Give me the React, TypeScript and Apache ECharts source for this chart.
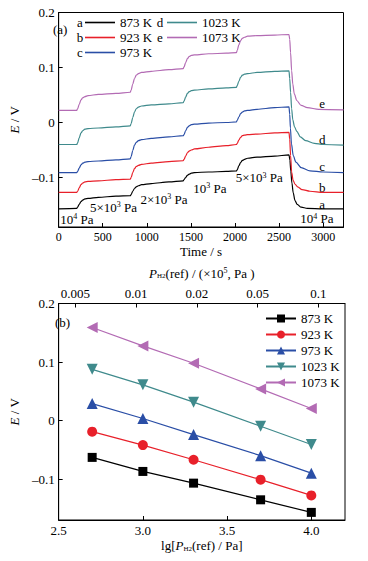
import React, { useEffect, useRef } from "react";
import * as echarts from "echarts";

const FONT = "'Liberation Serif', 'Times New Roman', serif";

// ---------- data ----------
const temps = ["873 K", "923 K", "973 K", "1023 K", "1073 K"];
const curveLetters = ["a", "b", "c", "d", "e"];
const colors = ["#000000", "#e8202a", "#2a4ea6", "#3f8a8c", "#b36bb4"];

const timeTicks = [0, 500, 1000, 1500, 2000, 2500, 3000];
const eTicks = [-0.1, 0, 0.1, 0.2];
const lgTicks = [2.5, 3.0, 3.5, 4.0];
const pTickLabels = ["0.005", "0.01", "0.02", "0.05", "0.1"];
const pTickIndex = [0, 1, 2, 3, 4];

// (a) E vs time, one array per temperature: [t (s), E (V)]
const curveA = [
  [0, -0.157], [205, -0.156], [215, -0.154], [233, -0.149], [253, -0.144], [273, -0.141], [298, -0.139], [333, -0.138], [450, -0.136], [650, -0.134], [812, -0.133],
  [822, -0.131], [840, -0.125], [860, -0.12], [880, -0.117], [905, -0.115], [940, -0.113], [1050, -0.111], [1250, -0.108], [1412, -0.106],
  [1422, -0.104], [1440, -0.1], [1460, -0.096], [1480, -0.094], [1505, -0.092], [1540, -0.091], [1700, -0.09], [1900, -0.089], [2015, -0.088],
  [2025, -0.086], [2043, -0.079], [2063, -0.073], [2083, -0.069], [2108, -0.067], [2143, -0.065], [2250, -0.063], [2450, -0.061], [2612, -0.059],
  [2622, -0.068], [2632, -0.088], [2645, -0.11], [2660, -0.128], [2680, -0.142], [2705, -0.149], [2750, -0.154], [2820, -0.156], [3000, -0.157], [3230, -0.157],
];
const curveB = [
  [0, -0.127], [205, -0.127], [215, -0.125], [233, -0.119], [253, -0.113], [273, -0.11], [298, -0.108], [333, -0.107], [450, -0.106], [650, -0.104], [812, -0.103],
  [822, -0.1], [840, -0.091], [860, -0.084], [880, -0.08], [905, -0.078], [940, -0.076], [1050, -0.074], [1250, -0.071], [1412, -0.0695],
  [1422, -0.067], [1440, -0.061], [1460, -0.055], [1480, -0.052], [1505, -0.05], [1540, -0.048], [1700, -0.045], [1900, -0.042], [2015, -0.04],
  [2025, -0.038], [2043, -0.032], [2063, -0.027], [2083, -0.024], [2108, -0.023], [2143, -0.022], [2250, -0.021], [2450, -0.019], [2612, -0.018],
  [2620, -0.03], [2630, -0.06], [2642, -0.09], [2658, -0.105], [2680, -0.112], [2710, -0.117], [2760, -0.122], [2850, -0.125], [3000, -0.127], [3230, -0.127],
];
const curveC = [
  [0, -0.091], [205, -0.091], [215, -0.089], [233, -0.083], [253, -0.077], [273, -0.074], [298, -0.072], [333, -0.071], [450, -0.07], [650, -0.068], [812, -0.066],
  [822, -0.062], [840, -0.051], [860, -0.041], [880, -0.036], [905, -0.033], [940, -0.031], [1050, -0.029], [1250, -0.026], [1412, -0.024],
  [1422, -0.022], [1440, -0.015], [1460, -0.009], [1480, -0.006], [1505, -0.004], [1540, -0.003], [1700, -0.001], [1900, 0.0], [2015, 0.001],
  [2025, 0.004], [2043, 0.01], [2063, 0.016], [2083, 0.019], [2108, 0.021], [2143, 0.022], [2250, 0.024], [2450, 0.027], [2612, 0.0285],
  [2620, 0.015], [2628, -0.01], [2640, -0.039], [2660, -0.06], [2690, -0.072], [2750, -0.082], [2850, -0.088], [3000, -0.09], [3230, -0.091],
];
const curveD = [
  [0, -0.04], [205, -0.04], [215, -0.037], [233, -0.028], [253, -0.019], [273, -0.015], [298, -0.012], [333, -0.011], [450, -0.01], [650, -0.008], [812, -0.006],
  [822, -0.002], [840, 0.009], [860, 0.019], [880, 0.025], [905, 0.028], [940, 0.03], [1050, 0.032], [1250, 0.034], [1412, 0.036],
  [1422, 0.039], [1440, 0.046], [1460, 0.053], [1480, 0.056], [1505, 0.058], [1540, 0.059], [1700, 0.061], [1900, 0.063], [2015, 0.064],
  [2025, 0.067], [2043, 0.075], [2063, 0.082], [2083, 0.086], [2108, 0.088], [2143, 0.089], [2250, 0.091], [2450, 0.093], [2612, 0.094],
  [2620, 0.08], [2630, 0.055], [2642, 0.025], [2655, 0.005], [2675, -0.008], [2700, -0.016], [2740, -0.026], [2800, -0.033], [2900, -0.038], [3000, -0.04], [3230, -0.041],
];
const curveE = [
  [0, 0.022], [205, 0.022], [215, 0.025], [233, 0.033], [253, 0.041], [273, 0.045], [298, 0.047], [333, 0.049], [450, 0.051], [650, 0.053], [812, 0.055],
  [822, 0.059], [840, 0.07], [860, 0.08], [880, 0.086], [905, 0.089], [940, 0.091], [1050, 0.093], [1250, 0.096], [1412, 0.098],
  [1422, 0.101], [1440, 0.109], [1460, 0.116], [1480, 0.12], [1505, 0.122], [1540, 0.123], [1700, 0.125], [1900, 0.126], [2015, 0.127],
  [2025, 0.131], [2043, 0.141], [2063, 0.149], [2083, 0.153], [2108, 0.155], [2143, 0.157], [2250, 0.158], [2450, 0.159], [2612, 0.16],
  [2620, 0.151], [2630, 0.127], [2642, 0.094], [2655, 0.07], [2672, 0.052], [2700, 0.04], [2750, 0.031], [2820, 0.027], [2950, 0.024], [3230, 0.023],
];
const curves = [curveA, curveB, curveC, curveD, curveE];

// (b) E vs lg P
const lgP = [2.699, 3.0, 3.301, 3.699, 4.0];
const e873 = [-0.063, -0.087, -0.107, -0.1355, -0.157];
const e923 = [-0.019, -0.042, -0.067, -0.101, -0.128];
const e973 = [0.029, 0.0034, -0.024, -0.06, -0.09];
const e1023 = [0.0875, 0.061, 0.0314, -0.0098, -0.041];
const e1073 = [0.159, 0.1275, 0.0978, 0.054, 0.0206];
const eSeries = [e873, e923, e973, e1023, e1073];

// annotation texts in panel (a)
const stepTexts = ["10{sup|4} Pa", "5×10{sup|3} Pa", "2×10{sup|3} Pa", "10{sup|3} Pa", "5×10{sup|3} Pa", "10{sup|4} Pa"];
const stepAnchors = [[19, -0.176], [355, -0.154], [927, -0.1395], [1527, -0.1195], [2008, -0.1], [2740, -0.175]];
const letterAnchors = [[2988, -0.149], [2988, -0.118], [2988, -0.0807], [2988, -0.03], [2988, 0.0353]];

// ---------- styles ----------
const symbols = ["rect", "circle", "triangle", "triangle", "triangle"];
const symbolSizes = [9, 10, 11, 11, 11];
const symbolRotates = [0, 0, 0, 180, 90];

const rich = {
  i: { fontStyle: "italic", fontFamily: FONT, fontSize: 13, color: "#000" },
  sub: { fontFamily: FONT, fontSize: 7, color: "#000", verticalAlign: "bottom" },
  sup: { fontFamily: FONT, fontSize: 8, color: "#000", verticalAlign: "top" },
};

const eFmt = (v: number) => {
  if (Math.abs(v) < 1e-9) return "0";
  return v < 0 ? "–" + Math.abs(v).toFixed(1) : v.toFixed(1);
};

const labelBase = { fontFamily: FONT, color: "#000" };
const axisLineStyle = { show: true, onZero: false, lineStyle: { color: "#000", width: 1 } };

export default function App() {
  const ref = useRef<HTMLDivElement>(null);
  useEffect(() => {
    if (!ref.current) return;
    const chart = echarts.init(ref.current, null, { renderer: "svg" });
    const option: any = {
      animation: false,
      backgroundColor: "#fff",
      textStyle: { fontFamily: FONT, color: "#000" },
      grid: [
        { left: 47.5, top: 12.5, width: 296, height: 214.5, show: true, borderColor: "#000", borderWidth: 1, backgroundColor: "transparent" },
        { left: 47.5, top: 303.5, width: 297.5, height: 216.5, show: true, borderColor: "#000", borderWidth: 1, backgroundColor: "transparent" },
      ],
      xAxis: [
        {
          gridIndex: 0, type: "value", min: 0, max: 3230, position: "bottom",
          axisLine: axisLineStyle,
          axisTick: { show: true, inside: true, length: 4, customValues: timeTicks, lineStyle: { color: "#000" } },
          axisLabel: { ...labelBase, fontSize: 12, margin: 4, customValues: timeTicks, formatter: (v: number) => String(v) },
          splitLine: { show: false },
          name: "Time / s", nameLocation: "middle", nameGap: 18,
          nameTextStyle: { ...labelBase, fontSize: 13 },
        },
        {
          gridIndex: 1, type: "value", min: 2.5, max: 4.2, position: "bottom",
          axisLine: axisLineStyle,
          axisTick: { show: true, inside: true, length: 4, customValues: lgTicks, lineStyle: { color: "#000" } },
          axisLabel: { ...labelBase, fontSize: 13, margin: 4, customValues: lgTicks, formatter: (v: number) => v.toFixed(1) },
          splitLine: { show: false },
          name: "lg[{i|P}{sub|H2}(ref) / Pa]", nameLocation: "middle", nameGap: 19,
          nameTextStyle: { ...labelBase, fontSize: 13, rich },
        },
        {
          gridIndex: 1, type: "value", min: -0.275, max: 4.44, position: "top",
          axisLine: axisLineStyle,
          axisTick: { show: true, inside: true, length: 4, customValues: pTickIndex, lineStyle: { color: "#000" } },
          axisLabel: { ...labelBase, fontSize: 13, margin: 4, customValues: pTickIndex, formatter: (v: number) => pTickLabels[Math.round(v)] },
          splitLine: { show: false },
          name: "{i|P}{sub|H2}(ref) / (×10{sup|5}, Pa )", nameLocation: "middle", nameGap: 24,
          nameTextStyle: { ...labelBase, fontSize: 13, rich },
        },
      ],
      yAxis: [
        {
          gridIndex: 0, type: "value", min: -0.19, max: 0.2,
          axisLine: axisLineStyle,
          axisTick: { show: true, inside: true, length: 4, customValues: eTicks, lineStyle: { color: "#000" } },
          axisLabel: { ...labelBase, fontSize: 13, margin: 4, customValues: eTicks, formatter: eFmt },
          splitLine: { show: false },
          name: "{i|E} / V", nameLocation: "middle", nameGap: 26,
          nameTextStyle: { ...labelBase, fontSize: 13, rich },
        },
        {
          gridIndex: 1, type: "value", min: -0.17, max: 0.2,
          axisLine: axisLineStyle,
          axisTick: { show: true, inside: true, length: 4, customValues: eTicks, lineStyle: { color: "#000" } },
          axisLabel: { ...labelBase, fontSize: 13, margin: 4, customValues: eTicks, formatter: eFmt },
          splitLine: { show: false },
          name: "{i|E} / V", nameLocation: "middle", nameGap: 26,
          nameTextStyle: { ...labelBase, fontSize: 13, rich },
        },
      ],
      legend: [
        {
          data: curveLetters.slice(0, 3).map((n) => ({ name: n, icon: "rect" })),
          orient: "vertical", left: 85, top: 16, padding: 0, itemWidth: 30, itemHeight: 1.6, itemGap: 2,
          formatter: (n: string) => temps[curveLetters.indexOf(n)],
          textStyle: { ...labelBase, fontSize: 13 }, selectedMode: false,
        },
        {
          data: curveLetters.slice(3).map((n) => ({ name: n, icon: "rect" })),
          orient: "vertical", left: 167, top: 16, padding: 0, itemWidth: 30, itemHeight: 1.6, itemGap: 2,
          formatter: (n: string) => temps[curveLetters.indexOf(n)],
          textStyle: { ...labelBase, fontSize: 13 }, selectedMode: false,
        },
        {
          data: temps, orient: "vertical", left: 265, top: 312, padding: 0, itemWidth: 30, itemHeight: 10, itemGap: 3,
          textStyle: { ...labelBase, fontSize: 13 }, selectedMode: false,
        },
      ],
      series: [
        ...curves.map((c, i) => ({
          type: "line", name: curveLetters[i], xAxisIndex: 0, yAxisIndex: 0,
          data: c, showSymbol: false, symbol: "none", smooth: 0.3, smoothMonotone: "x",
          lineStyle: { color: colors[i], width: 1.2 }, itemStyle: { color: colors[i] }, z: 2 + i,
        })),
        ...eSeries.map((e, i) => ({
          type: "line", name: temps[i], xAxisIndex: 1, yAxisIndex: 1,
          data: lgP.map((x, j) => [x, e[j]]),
          symbol: symbols[i], symbolSize: symbolSizes[i], symbolRotate: symbolRotates[i],
          lineStyle: { color: colors[i], width: 1.2 }, itemStyle: { color: colors[i] },
        })),
      ],
    };
    chart.setOption(option);

    const txt = (x: number, y: number, text: string, align = "left") => ({
      type: "text", x, y, silent: true,
      style: { text, fill: "#000", fontFamily: FONT, fontSize: 13, align, verticalAlign: "middle", rich },
    });
    const graphics: any[] = [];
    stepTexts.forEach((t, i) => {
      const p = chart.convertToPixel({ gridIndex: 0 }, stepAnchors[i]) as number[];
      graphics.push(txt(p[0], p[1], t));
    });
    curveLetters.forEach((l, i) => {
      const p = chart.convertToPixel({ gridIndex: 0 }, letterAnchors[i]) as number[];
      graphics.push(txt(p[0], p[1], l, "center"));
    });
    // legend letters and panel tags
    graphics.push(txt(80, 22.5, "a", "center"), txt(80, 37.5, "b", "center"), txt(80, 52.5, "c", "center"));
    graphics.push(txt(160, 22.5, "d", "center"), txt(160, 37.5, "e", "center"));
    graphics.push(txt(53, 29, "(a)"), txt(55, 322, "(b)"));
    chart.setOption({ graphic: graphics });

    return () => chart.dispose();
  }, []);
  return <div ref={ref} style={{ position: "fixed", left: 0, top: 0, width: 368, height: 561 }} />;
}
